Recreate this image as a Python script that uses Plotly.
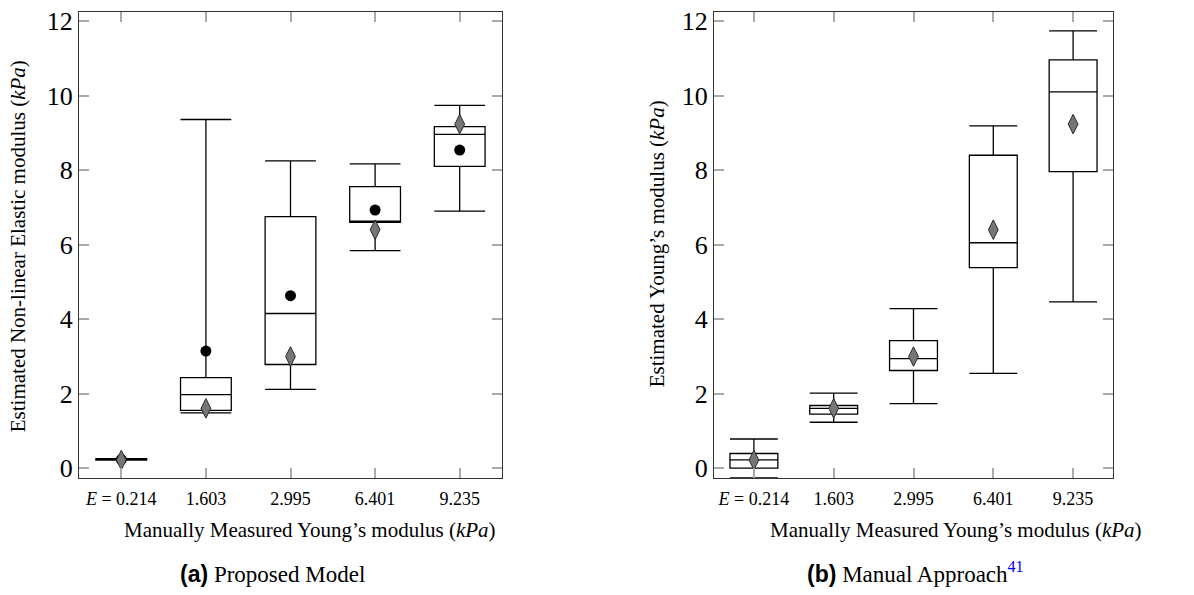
import plotly.graph_objects as go

# ---- data ----
categories = ["<i>E</i> = 0.214", "1.603", "2.995", "6.401", "9.235"]
manual_values = [0.214, 1.603, 2.995, 6.401, 9.235]

# (a) Proposed model
a_lower = [0.21, 1.48, 2.11, 5.84, 6.90]
a_q1 = [0.21, 1.55, 2.78, 6.60, 8.10]
a_median = [0.23, 1.97, 4.15, 6.63, 8.96]
a_q3 = [0.25, 2.43, 6.75, 7.56, 9.17]
a_upper = [0.25, 9.36, 8.25, 8.17, 9.74]
a_mean = [0.23, 3.14, 4.63, 6.93, 8.54]

# (b) Manual approach
b_lower = [-0.26, 1.23, 1.73, 2.54, 4.46]
b_q1 = [0.00, 1.45, 2.62, 5.38, 7.96]
b_median = [0.22, 1.60, 2.94, 6.05, 10.10]
b_q3 = [0.39, 1.68, 3.42, 8.40, 10.96]
b_upper = [0.78, 2.01, 4.28, 9.19, 11.74]

xpos = list(range(len(categories)))
yticks = [0, 2, 4, 6, 8, 10, 12]

SERIF = "Liberation Serif"
SANS = "Liberation Sans"

fig = go.Figure()

def add_box(lower, q1, med, q3, upper, xa, ya):
    fig.add_trace(go.Box(
        x=xpos, q1=q1, median=med, q3=q3, lowerfence=lower, upperfence=upper,
        width=0.6, whiskerwidth=1, fillcolor="white",
        line=dict(color="black", width=1.3),
        boxpoints=False, showlegend=False, xaxis=xa, yaxis=ya, hoverinfo="skip"))

diamond = dict(symbol="diamond-tall", size=14, color="#767676",
               line=dict(color="#2a2a2a", width=1))

add_box(a_lower, a_q1, a_median, a_q3, a_upper, "x", "y")
fig.add_trace(go.Scatter(x=xpos, y=a_mean, mode="markers", xaxis="x", yaxis="y",
                         marker=dict(symbol="circle", size=11, color="black"),
                         showlegend=False, hoverinfo="skip"))
fig.add_trace(go.Scatter(x=xpos, y=manual_values, mode="markers", xaxis="x", yaxis="y",
                         marker=diamond, showlegend=False, hoverinfo="skip"))

add_box(b_lower, b_q1, b_median, b_q3, b_upper, "x2", "y2")
fig.add_trace(go.Scatter(x=xpos, y=manual_values, mode="markers", xaxis="x2", yaxis="y2",
                         marker=diamond, showlegend=False, hoverinfo="skip"))

W, H = 1194, 595
xdom1 = [79 / W, 502 / W]
xdom2 = [714 / W, 1113 / W]
ydom = [(H - 481) / H, (H - 8) / H]

xcommon = dict(range=[-0.5, 4.5], tickvals=xpos, ticktext=categories, ticks="inside",
               ticklen=10, tickcolor="#aaaaaa", tickwidth=1.5, showline=True,
               linecolor="#333333", linewidth=1.3, mirror="ticks", showgrid=False,
               zeroline=False, ticklabelstandoff=5,
               tickfont=dict(family=SERIF, size=18, color="black"))
ycommon = dict(range=[-0.26, 12.25], tickvals=yticks, ticks="inside", ticklen=10,
               tickcolor="#aaaaaa", tickwidth=1.5, showline=True, linecolor="#333333",
               linewidth=1.3, mirror="ticks", showgrid=False, zeroline=False,
               tickfont=dict(family=SERIF, size=26, color="black"))

fig.update_layout(
    width=W, height=H, margin=dict(l=0, r=0, t=0, b=0),
    plot_bgcolor="white", paper_bgcolor="white",
    xaxis=dict(domain=xdom1, anchor="y", **xcommon),
    yaxis=dict(domain=ydom, anchor="x", **ycommon),
    xaxis2=dict(domain=xdom2, anchor="y2", **xcommon),
    yaxis2=dict(domain=ydom, anchor="x2", **ycommon),
)

def ann(text, x, y, size, angle=0):
    fig.add_annotation(text=text, x=x / W, y=1 - y / H, xref="paper", yref="paper",
                       showarrow=False, textangle=angle, xanchor="center", yanchor="middle",
                       font=dict(family=SERIF, size=size, color="black"))

ann("Manually Measured Young’s modulus (<i>kPa</i>)", 310, 534, 21)
ann("Manually Measured Young’s modulus (<i>kPa</i>)", 956, 534, 21)
ann("Estimated Non-linear Elastic modulus (<i>kPa</i>)", 18, 246, 21, -90)
ann("Estimated Young’s modulus (<i>kPa</i>)", 657, 244, 21, -90)
ann("<span style='font-family:Liberation Sans'><b>(a)</b></span> Proposed Model", 272, 579, 23)
ann("<span style='font-family:Liberation Sans'><b>(b)</b></span> Manual Approach"
    "<sup><span style='color:#0000ff'>41</span></sup>", 915, 577, 23)

fig.write_html("out.html")
